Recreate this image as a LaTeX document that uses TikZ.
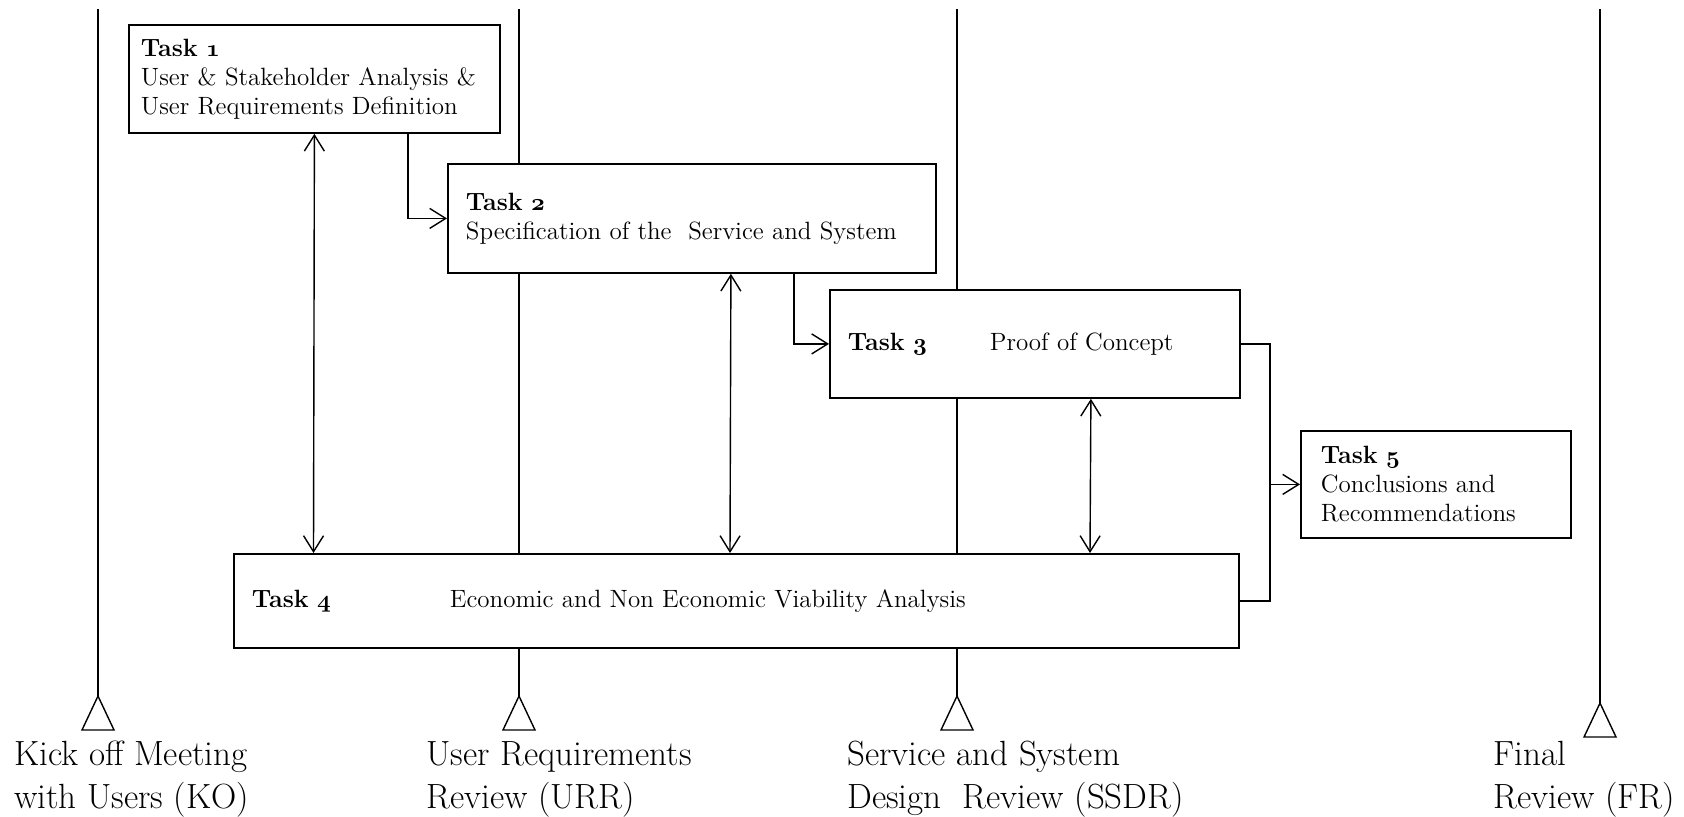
\documentclass[tikz,border=0pt]{standalone}
\usepackage{tikz}
\usetikzlibrary{arrows.meta}

\newcommand{\osnum}[1]{{\usefont{OML}{cmm}{b}{it}#1}}

\tikzset{
  task/.style={draw, fill=white, line width=0.9pt, align=left, anchor=north west,
    inner xsep=9pt, inner ysep=0pt, font=\fontsize{12.5}{14.5}\selectfont},
  link/.style={line width=0.7pt},
  arr/.style={link, -{Straight Barb[length=8pt,width=10pt]}},
  dbl/.style={link, {Straight Barb[length=8pt,width=10pt]}-{Straight Barb[length=8pt,width=10pt]}},
  milestone/.style={align=left, anchor=north west, inner sep=0pt,
    font=\fontsize{17.5}{21.5}\selectfont}
}

\begin{document}
\begin{tikzpicture}[x=0.5pt, y=-0.5pt]
\useasboundingbox (0,0) rectangle (1684,816);

% review lines
\coordinate (koTop) at (98,9);
\coordinate (ko) at (98,696);
\coordinate (urrTop) at (519,9);
\coordinate (urr) at (519,696);
\coordinate (ssdrTop) at (957,9);
\coordinate (ssdr) at (957,696);
\coordinate (frTop) at (1600,9);
\coordinate (fr) at (1600,703);
\draw[link] (koTop) -- (ko);
\draw[link] (urrTop) -- (urr);
\draw[link] (ssdrTop) -- (ssdr);
\draw[link] (frTop) -- (fr);
\draw[link] (ko) -- ++(-16,34) -- ++(32,0) -- cycle;
\draw[link] (urr) -- ++(-16,34) -- ++(32,0) -- cycle;
\draw[link] (ssdr) -- ++(-16,34) -- ++(32,0) -- cycle;
\draw[link] (fr) -- ++(-16,34) -- ++(32,0) -- cycle;

% tasks
\node[task, text width=173.5pt, inner xsep=6pt, minimum height=54pt] (task1) at (128,24)
  {\textbf{Task \osnum{1}}\\User \& Stakeholder Analysis \&\\User Requirements Definition};
\node[task, text width=226pt, minimum height=54.5pt] (task2) at (447,163)
  {\textbf{Task \osnum{2}}\\Specification of the\ \ Service and System};
\node[task, text width=187pt, minimum height=54pt] (task3) at (829,289)
  {\makebox[71pt][l]{\textbf{Task \osnum{3}}}Proof of Concept};
\node[task, text width=484.5pt, minimum height=47pt] (task4) at (233,553)
  {\makebox[99pt][l]{\textbf{Task \osnum{4}}}Economic and Non Economic Viability Analysis};
\node[task, text width=115pt, minimum height=53.5pt, inner xsep=10pt] (task5) at (1300,430)
  {\textbf{Task \osnum{5}}\\Conclusions and\\Recommendations};

% flows
\draw[arr] ([xshift=46.75pt]task1.south) |- (task2.west);
\draw[arr] ([xshift=51pt]task2.south) |- (task3.west);
\draw[dbl] (task1.south) -- ([xshift=40.25pt]task4.north west);
\draw[dbl] ([xshift=19.5pt]task2.south) -- ([xshift=248.5pt]task4.north west);
\draw[dbl] ([xshift=28pt]task3.south) -- ([xshift=428.5pt]task4.north west);
\coordinate (merge) at ([xshift=-15pt]task5.west);
\draw[link] (task3.east) -| (merge);
\draw[link] (task4.east) -| (merge);
\draw[arr] (merge) -- (task5.west);

% review labels
\node[milestone] (koLabel) at (14,741) {Kick off Meeting\\with Users (KO)};
\node[milestone] (urrLabel) at (426,741) {User Requirements\\Review (URR)};
\node[milestone] (ssdrLabel) at (847,741) {Service and System\\Design\ \ Review (SSDR)};
\node[milestone] (frLabel) at (1493,741) {Final\\Review (FR)};

\end{tikzpicture}
\end{document}
